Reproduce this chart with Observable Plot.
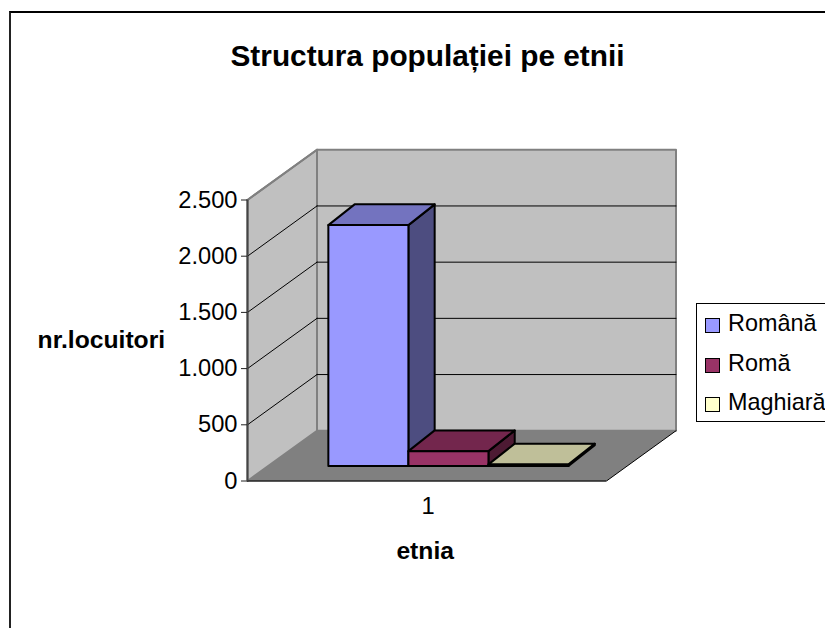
<!DOCTYPE html>
<html>
<head>
<meta charset="utf-8">
<script src="https://cdn.jsdelivr.net/npm/d3@7"></script>
<script src="https://cdn.jsdelivr.net/npm/@observablehq/plot@0.6"></script>
<style>
  html, body { margin: 0; padding: 0; background: #fff; overflow: hidden; width: 825px; height: 628px; font-family: "Liberation Sans", Arial, sans-serif; }
  #root { position: relative; width: 825px; height: 628px; overflow: hidden; }
  #frame { position: absolute; left: 9px; top: 11px; width: 900px; height: 700px; border-top: 2px solid #000; border-left: 2px solid #222; box-sizing: border-box; }
  #title { position: absolute; left: 11px; width: 833px; top: 39px; text-align: center; font-weight: bold; font-size: 29.8px; line-height: 34px; color: #000; margin: 0; }
  #chart { position: absolute; left: 0; top: 0; }
  #legend { position: absolute; left: 696px; top: 303px; width: 160px; height: 119px; border: 1px solid #000; box-sizing: border-box; background: #fff; }
  .item { position: absolute; left: 8px; font-size: 23.4px; line-height: 26px; color: #000; white-space: nowrap; }
  .item i { display: inline-block; width: 15px; height: 15px; border: 1.5px solid #000; box-sizing: border-box; margin-right: 8px; vertical-align: -2px; }
</style>
</head>
<body>
<div id="root">
  <div id="frame"></div>
  <h1 id="title"></h1>
  <div id="chart"></div>
  <div id="legend"></div>
</div>
<script>
const titleText = "Structura populației pe etnii";
const yLabel = "nr.locuitori";
const xLabel = "etnia";
const categories = ["Română", "Romă", "Maghiară"];
const values = [2144, 133, 15];
const frontColors = ["#9999FF", "#993366", "#FFFFCC"];
const topColors = ["#7373BF", "#73264D", "#BFBF99"];
const sideColors = ["#4D4D80", "#4D1A33", "#808066"];
const yTicks = [0, 500, 1000, 1500, 2000, 2500];
const xTickLabel = "1";

// Oblique projection: depth z (0..1) shifts a point along both value and category axes.
const depthX = 69.5 / 359, depthY = 447;
const barStart = 0.1677, barWidth = 0.223, zFront = 0.297, zBack = 0.71, lean = 0.0068;
const P = (u, z, v) => ({x: u + z * depthX, y: v + z * depthY});
const poly = (pts, fill, stroke, strokeWidth) =>
  Plot.line(pts, {x: "x", y: "y", fill, stroke: stroke ?? fill, strokeWidth: strokeWidth ?? 0, curve: "linear-closed"});
const seg = (a, b, stroke, strokeWidth) =>
  Plot.line([a, b], {x: "x", y: "y", stroke, strokeWidth});

const yMax = d3.max(yTicks);
const marks = [
  poly([P(0,1,0), P(1,1,0), P(1,1,yMax), P(0,1,yMax)], "#C0C0C0", "#808080", 2),
  poly([P(0,0,0), P(0,1,0), P(0,1,yMax), P(0,0,yMax)], "#C0C0C0", "#808080", 2),
  poly([P(0,0,0), P(1,0,0), P(1,1,0), P(0,1,0)], "#808080"),
  seg(P(1,0,0), P(1,1,0), "#000", 1),
  seg(P(0,1,yMax), P(0,0,yMax), "#808080", 2),
];
for (const t of yTicks.filter(t => t > 0 && t < yMax)) {
  marks.push(seg(P(0,0,t), P(0,1,t), "#000", 1));
  marks.push(seg(P(0,1,t), P(1,1,t), "#000", 1));
}
values.forEach((v, i) => {
  const a = barStart + i * barWidth, b = a + barWidth;
  marks.push(poly([P(b,zFront,0), P(b-lean,zBack,0), P(b-lean,zBack,v), P(b,zFront,v)], sideColors[i], "#000", 2));
  marks.push(poly([P(a,zFront,v), P(b,zFront,v), P(b-lean,zBack,v), P(a-lean,zBack,v)], topColors[i], "#000", 2));
  marks.push(poly([P(a,zFront,0), P(b,zFront,0), P(b,zFront,v), P(a,zFront,v)], frontColors[i], "#000", 2));
});
marks.push(
  Plot.ruleY([0], {x1: 0, x2: 1, stroke: "#222", strokeWidth: 1.5}),
  Plot.ruleX([0], {y1: 0, y2: yMax, stroke: "#444", strokeWidth: 2}),
  Plot.axisY({ticks: yTicks, tickFormat: d => d3.format(",")(d).replace(",", "."), tickSize: 6, tickPadding: 4, label: null, fontSize: 23.7, anchor: "left", x: 0, stroke: "#222", fill: "#000", textStroke: "none"}),
  Plot.axisX({ticks: [0, 1], tickFormat: () => "", tickSize: 6, label: null, anchor: "bottom", stroke: "#444"}),
  Plot.text([xTickLabel], {x: 0.503, y: -225, text: d => d, fontSize: 23.7, fill: "#000"}),
  Plot.text([xLabel], {x: 0.495, y: -625, text: d => d, fontSize: 24.7, fontWeight: "bold", fill: "#000"}),
  Plot.text([yLabel], {x: -0.407, y: 1250, text: d => d, fontSize: 24.7, fontWeight: "bold", fill: "#000"})
);

const plot = Plot.plot({
  width: 825,
  height: 628,
  margin: 0,
  style: {background: "transparent", fontFamily: "Liberation Sans, Arial, sans-serif", overflow: "visible"},
  x: {domain: [0, 1], range: [247, 606], label: null, axis: null},
  y: {domain: [0, yMax], range: [480.5, 199.5], label: null, axis: null},
  marks
});
document.getElementById("chart").appendChild(plot);
document.getElementById("title").textContent = titleText;

const legend = document.getElementById("legend");
categories.forEach((c, i) => {
  const el = document.createElement("div");
  el.className = "item";
  el.style.top = (6 + i * 39.5) + "px";
  const sw = document.createElement("i");
  sw.style.background = frontColors[i];
  el.appendChild(sw);
  el.appendChild(document.createTextNode(c));
  legend.appendChild(el);
});
</script>
</body>
</html>
